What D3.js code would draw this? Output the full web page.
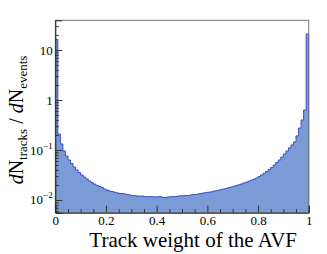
<!DOCTYPE html>
<html><head><meta charset="utf-8">
<script src="https://cdn.jsdelivr.net/npm/d3@7"></script>
<style>
html,body{margin:0;padding:0;background:#fff;}
svg{display:block;}
text{font-family:"Liberation Serif","Times New Roman",serif;fill:#000;}
</style></head>
<body>
<svg id="c" width="327" height="254"></svg>
<script>
// 100 bins over [0,1] of track weight
const binEdgesStart = 0, binEdgesEnd = 1, nBins = 100;
const binValues = [
16.4, 0.209, 0.132, 0.0955, 0.0759, 0.0631, 0.0537, 0.0457, 0.0398, 0.0355,
0.0316, 0.0288, 0.0263, 0.0240, 0.0224, 0.0209, 0.0195, 0.0186, 0.0178, 0.0166,
0.0158, 0.0151, 0.0148, 0.0143, 0.0139, 0.0135, 0.0135, 0.0132, 0.0129, 0.0126,
0.0123, 0.0122, 0.0120, 0.0119, 0.0120, 0.0117, 0.0116, 0.0117, 0.0116, 0.0115,
0.0116, 0.0117, 0.0112, 0.0111, 0.0115, 0.0116, 0.0117, 0.0117, 0.0120, 0.0121,
0.0121, 0.0124, 0.0123, 0.0126, 0.0129, 0.0129, 0.0132, 0.0135, 0.0138, 0.0141,
0.0143, 0.0145, 0.0150, 0.0153, 0.0157, 0.0162, 0.0166, 0.0171, 0.0176, 0.0182,
0.0188, 0.0195, 0.0201, 0.0209, 0.0219, 0.0227, 0.0238, 0.0249, 0.0261, 0.0275,
0.0295, 0.0316, 0.0344, 0.0372, 0.0407, 0.0447, 0.0501, 0.0562, 0.0631, 0.0724,
0.0832, 0.0955, 0.110, 0.126, 0.145, 0.191, 0.275, 0.398, 0.631, 20.9
];
const xTickMajor = [0, 0.2, 0.4, 0.6, 0.8, 1];
const xTickLabels = ["0", "0.2", "0.4", "0.6", "0.8", "1"];
const yTickMajor = [0.01, 0.1, 1, 10];
const yTickBase = ["10", "10", "1", "10"];
const yTickExp = ["\u22122", "\u22121", "", ""];
const xTitle = "Track weight of the AVF";

const svg = d3.select("#c");
const L = 55.3, R = 308.7, T = 20.3, B = 212.7;
const x = d3.scaleLinear().domain([binEdgesStart, binEdgesEnd]).range([L, R]);
const y = d3.scaleLog().domain([0.00557, 39.3]).range([B, T]);

const bw = (binEdgesEnd - binEdgesStart) / nBins;
const pts = binValues.map((v, i) => [binEdgesStart + i * bw, v]);
pts.push([binEdgesEnd, binValues[nBins - 1]]);

const area = d3.area().curve(d3.curveStepAfter)
  .x(d => x(d[0])).y0(B).y1(d => y(d[1]));
const line = d3.line().curve(d3.curveStepAfter)
  .x(d => x(d[0])).y(d => y(d[1]));

svg.append("path").attr("d", area(pts)).attr("fill", "#7b9bd7").attr("stroke", "none");
svg.append("path").attr("d", line(pts)).attr("fill", "none").attr("stroke", "#3b4dc8").attr("stroke-width", 1);
svg.append("line").attr("x1", x(1)).attr("x2", x(1)).attr("y1", y(binValues[nBins-1])).attr("y2", B)
  .attr("stroke", "#3b4dc8");

// frame
svg.append("rect").attr("x", L).attr("y", T).attr("width", R - L).attr("height", B - T)
  .attr("fill", "none").attr("stroke", "#777").attr("stroke-width", 1);

// x axis
const xMinor = d3.range(0, 1.0001, 0.05).filter(v => Math.abs(v / 0.2 - Math.round(v / 0.2)) > 1e-6);
const gx = svg.append("g").attr("transform", `translate(0,${B})`);
gx.call(d3.axisBottom(x).tickValues(xMinor).tickSize(-3.5).tickFormat(""));
gx.call(g => g.select(".domain").remove());
const gx2 = svg.append("g").attr("transform", `translate(0,${B})`);
gx2.call(d3.axisBottom(x).tickValues(xTickMajor).tickSize(-7).tickPadding(3)
  .tickFormat((d, i) => xTickLabels[i]));
gx2.select(".domain").attr("stroke", "#222");
svg.selectAll("g.tick line").attr("stroke", "#333");
gx2.selectAll("text").attr("font-size", 13).attr("font-family", '"Liberation Serif",serif');

// y axis
const yMinor = [];
[0.001, 0.01, 0.1, 1, 10].forEach(b => { for (let k = 2; k <= 9; k++) { const v = b * k; if (v > 0.00557 && v < 39.3) yMinor.push(v); } });
const gy = svg.append("g").attr("transform", `translate(${L},0)`);
gy.call(d3.axisLeft(y).tickValues(yMinor).tickSize(-3.5).tickFormat(""));
gy.select(".domain").remove();
const gy2 = svg.append("g").attr("transform", `translate(${L},0)`);
gy2.call(d3.axisLeft(y).tickValues(yTickMajor).tickSize(-7).tickFormat(""));
gy2.select(".domain").attr("stroke", "#222");
gy.selectAll("line").attr("stroke", "#333");
gy2.selectAll("line").attr("stroke", "#333");
yTickMajor.forEach((v, i) => {
  const t = svg.append("text").attr("x", L - 2.6).attr("y", y(v) + 4.5)
    .attr("text-anchor", "end").attr("font-size", 13);
  t.append("tspan").text(yTickBase[i]);
  if (yTickExp[i]) t.append("tspan").attr("dy", -6).attr("font-size", 9).text(yTickExp[i]);
});

// x title
svg.append("text").attr("x", 297).attr("y", 247).attr("text-anchor", "end")
  .attr("font-size", 21).text(xTitle);

// y title
const yt = svg.append("text").attr("transform", "translate(23,120) rotate(-90)")
  .attr("text-anchor", "middle").attr("font-size", 20);
yt.append("tspan").attr("font-style", "italic").text("d");
yt.append("tspan").text("N");
yt.append("tspan").attr("font-size", 13).attr("dy", 4).text("tracks");
yt.append("tspan").attr("dy", -4).text(" / ");
yt.append("tspan").attr("font-style", "italic").text("d");
yt.append("tspan").text("N");
yt.append("tspan").attr("font-size", 13).attr("dy", 4).text("events");
</script>
</body></html>
